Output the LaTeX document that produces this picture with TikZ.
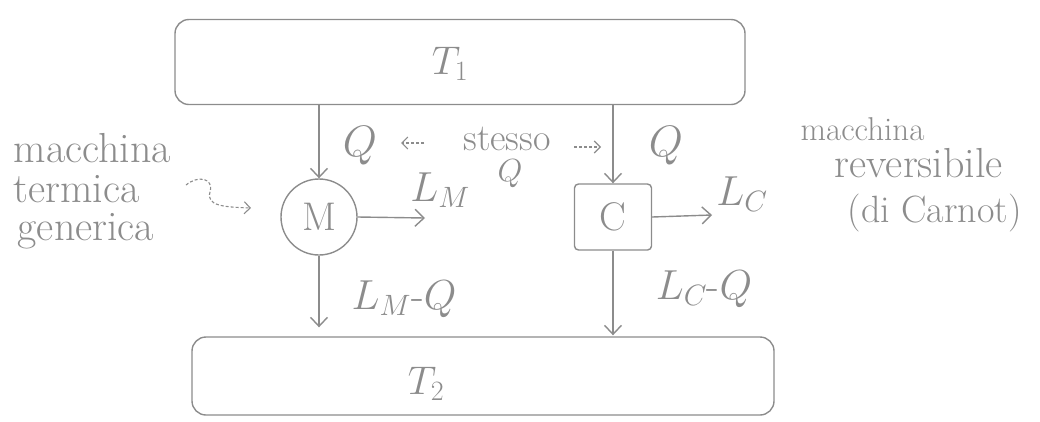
\RequirePackage{fix-cm}
\documentclass[tikz,border=0pt]{standalone}
\usetikzlibrary{arrows.meta}
\definecolor{ink}{gray}{0.55}
\begin{document}
\begin{tikzpicture}[x=1pt,y=-1pt, line width=1.4pt, color=ink,
  reservoir/.style={draw=ink, rounded corners=14pt, inner sep=0pt},
  engine/.style={draw=ink, inner sep=0pt, font=\fontsize{40}{40}\selectfont},
  flow/.style={-{Straight Barb[length=9pt,width=17pt]}},
  lbl/.style={font=\fontsize{42}{42}\selectfont, text=ink, inner sep=0pt},
  note/.style={font=\fontsize{42}{42}\selectfont, text=ink, inner sep=0pt},
  hint/.style={densely dashed, line width=1.1pt, -{Straight Barb[length=6pt,width=12pt]}}]
\useasboundingbox (0,0) rectangle (1040,421);
% reservoirs
\node[reservoir, minimum width=570pt, minimum height=85pt] (hot) at (460,62) {};
\node[lbl, font=\fontsize{40}{40}\selectfont] (t1) at (450,64) {$T_1$};
\node[reservoir, minimum width=582pt, minimum height=78pt] (cold) at (483,376) {};
\node[lbl, font=\fontsize{40}{40}\selectfont] (t2) at (426,384) {$T_2$};
% engines
\node[engine, circle, minimum size=76pt] (M) at (319,217) {M};
\node[engine, rectangle, rounded corners=4pt, minimum width=77pt, minimum height=66pt] (C) at (613,217) {C};
% heat in
\draw[flow] (hot.south -| M) -- (M.north);
\draw[flow] (hot.south -| C) -- (C.north);
\node[lbl, font=\fontsize{44}{44}\selectfont] (qL) at (360,146) {$Q$};
\node[lbl, font=\fontsize{44}{44}\selectfont] (qR) at (666,146) {$Q$};
% work out
\coordinate (mout) at (425,218);
\coordinate (cout) at (712,215);
\draw[flow] (M.east) -- (mout);
\draw[flow] (C.east) -- (cout);
\node[lbl] (lm) at (440,190) {$L_M$};
\node[lbl] (lc) at (742,194) {$L_C$};
% heat out
\draw[flow, shorten >=9pt] (M.south) -- (M |- cold.north);
\draw[flow, shorten >=1pt] (C.south) -- (C |- cold.north);
\node[lbl] (lmq) at (404,299) {$L_M$-$Q$};
\node[lbl] (lcq) at (704,289) {$L_C$-$Q$};
% same Q
\node[note, align=center, font=\fontsize{38}{31}\selectfont] (st) at (507,157) {stesso\\\hspace*{6pt}\fontsize{32}{31}\selectfont$Q$};
\coordinate (sa1) at (424,143);
\coordinate (sa2) at (401,143);
\coordinate (sb1) at (574,147);
\coordinate (sb2) at (601,147);
\draw[hint] (sa1) -- (sa2);
\draw[hint] (sb1) -- (sb2);
% side notes
\node[note, anchor=base west] (n1) at (13,162) {macchina};
\node[note, anchor=base west] (n2) at (13,202) {termica};
\node[note, anchor=base west] (n3) at (17,240) {generica};
\coordinate (sq) at (186,185);
\coordinate (sqe) at (251,208);
\draw[hint] (sq) .. controls (198,175) and (214,178) .. (210,192) .. controls (206,206) and (224,207) .. (sqe);
\node[note, font=\fontsize{33}{33}\selectfont, anchor=base west] (r1) at (800,140) {macchina};
\node[note, anchor=base west] (r2) at (834,177) {reversibile};
\node[note, font=\fontsize{38}{38}\selectfont, anchor=base west] (r3) at (847,222) {(di Carnot)};
\end{tikzpicture}
\end{document}
